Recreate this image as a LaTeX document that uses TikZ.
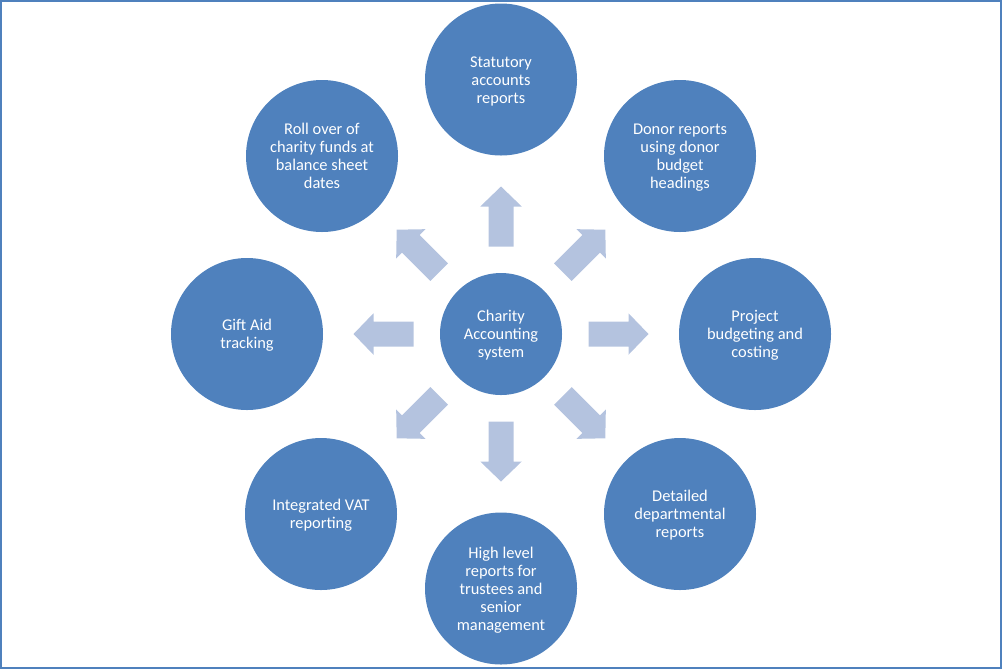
\documentclass[tikz,border=0pt]{standalone}
\usepackage{fontspec}
\setmainfont{Carlito}
\definecolor{circblue}{HTML}{4F81BD}
\definecolor{arrblue}{HTML}{B4C3DF}
\newcommand\bubtext[1]{\raisebox{0pt}[\dimexpr\height+3pt\relax][\depth]{\begin{tabular}{@{}c@{}}#1\end{tabular}}}
\tikzset{
  bubble/.style={circle, fill=circblue, draw=none, minimum size=114pt, inner sep=0pt,
    text=white, font=\fontsize{12.3}{13.5}\selectfont},
  hub/.style={bubble, minimum size=91.5pt},
  frame/.style={draw=circblue, line width=1.5pt},
  pics/fatarrow/.style={code={
    \fill[arrblue] (87.5,-12.5) -- (127.5,-12.5) -- (127.5,-20.75) -- (147.5,0)
      -- (127.5,20.75) -- (127.5,12.5) -- (87.5,12.5) -- cycle;}}
}
\begin{document}
\begin{tikzpicture}[x=0.75pt, y=-0.75pt]
\useasboundingbox (0,0) rectangle (1002,669);
\draw[frame] (1,1) rectangle (1000.5,667.5);
\coordinate (c) at (501,334);
\node[hub] (center) at (c) {\bubtext{Charity\\Accounting\\system}};
\node[bubble] (top) at (501,79.5) {\bubtext{Statutory\\accounts\\reports}};
\node[bubble] (donor) at (680,156) {\bubtext{Donor reports\\using donor\\budget\\headings}};
\node[bubble] (project) at (755,334) {\bubtext{Project\\budgeting and\\costing}};
\node[bubble] (detailed) at (680,514) {\bubtext{Detailed\\departmental\\reports}};
\node[bubble] (bottom) at (501,588.5) {\bubtext{High level\\reports for\\trustees and\\senior\\management}};
\node[bubble] (vat) at (321,514) {\bubtext{Integrated VAT\\reporting}};
\node[bubble] (gift) at (247,334) {\bubtext{Gift Aid\\tracking}};
\node[bubble] (roll) at (322,156) {\bubtext{Roll over of\\charity funds at\\balance sheet\\dates}};
\foreach \a/\n in {0/ae,45/ane,90/an,135/anw,180/aw,225/asw,270/as,315/ase}{
  \pic[rotate=\a] (\n) at (c) {fatarrow};
}
\end{tikzpicture}
\end{document}
